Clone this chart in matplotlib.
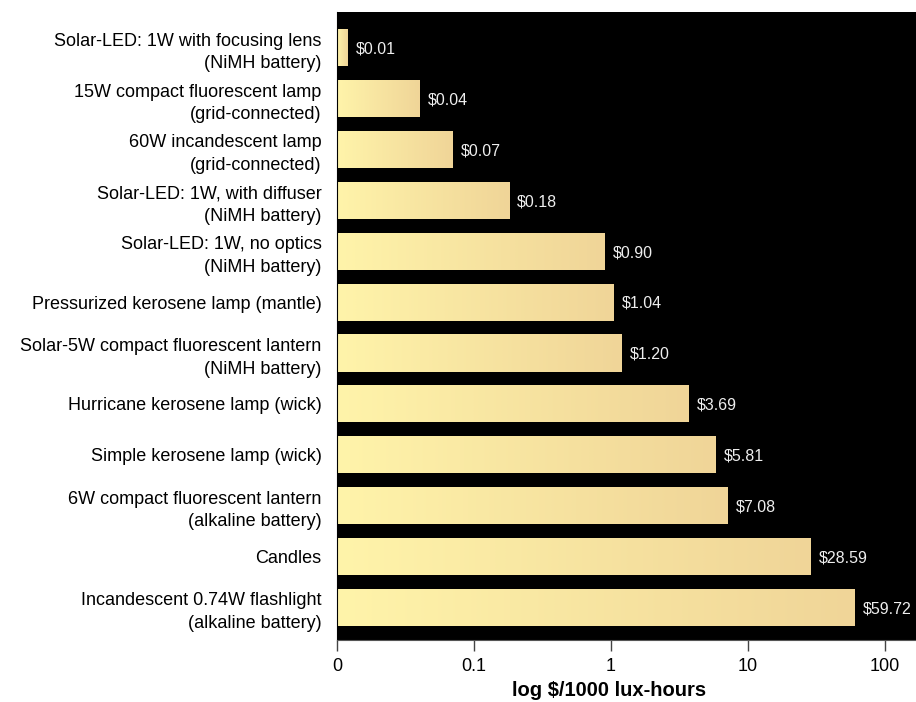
import matplotlib
matplotlib.use("Agg")
import matplotlib.pyplot as plt
import numpy as np
from matplotlib.colors import LinearSegmentedColormap
from matplotlib.image import AxesImage
from matplotlib.transforms import BboxTransformTo, TransformedBbox

plt.rcParams['font.family'] = ['Liberation Sans', 'DejaVu Sans']

# Kosten pro 1000 Lux-Stunden (von oben nach unten)
labels = [
    "Solar-LED: 1W with focusing lens\n(NiMH battery)",
    "15W compact fluorescent lamp\n(grid-connected)",
    "60W incandescent lamp\n(grid-connected)",
    "Solar-LED: 1W, with diffuser\n(NiMH battery)",
    "Solar-LED: 1W, no optics\n(NiMH battery)",
    "Pressurized kerosene lamp (mantle)",
    "Solar-5W compact fluorescent lantern\n(NiMH battery)",
    "Hurricane kerosene lamp (wick)",
    "Simple kerosene lamp (wick)",
    "6W compact fluorescent lantern\n(alkaline battery)",
    "Candles",
    "Incandescent 0.74W flashlight\n(alkaline battery)",
]
costs = [0.012, 0.04, 0.07, 0.18, 0.90, 1.04, 1.20, 3.69, 5.81, 7.08, 28.59, 59.72]
tick_vals = [0.01, 0.1, 1, 10, 100]
tick_labels = ["0", "0.1", "1", "10", "100"]

xmin, xmax = 0.01, 168

fig = plt.figure(figsize=(9.16, 7.02), dpi=100)
ax = fig.add_axes([337 / 916, 62 / 702, 579 / 916, 628 / 702])
ax.set_facecolor('black')
ax.set_xscale('log')

y = np.arange(len(costs))
bars = ax.barh(y, [c - xmin for c in costs], left=xmin, height=0.73,
               color='none', linewidth=0)

# Verlauf hell-gelb -> beige in jedem Balken
cmap = LinearSegmentedColormap.from_list('lamp', ['#FFF4AA', '#F0D598'])
grad = np.linspace(0, 1, 256).reshape(1, -1)
for bar, c in zip(bars, costs):
    box = TransformedBbox(bar.get_bbox(), ax.transData)
    im = AxesImage(ax, cmap=cmap, interpolation='bilinear',
                   extent=(0, 1, 0, 1), origin='lower')
    im.set_data(grad)
    im.set_transform(BboxTransformTo(box))
    im.set_clip_path(bar)
    ax.add_image(im)
    ax.annotate(f"${c:.2f}", xy=(c, bar.get_y() + bar.get_height() / 2),
                xytext=(6, -1), textcoords='offset points',
                va='center', ha='left', color='#EEEEEE', fontsize=11.5)

ax.set_xlim(xmin, xmax)
ax.set_ylim(len(costs) - 1 + 0.64, -0.70)
ax.set_yticks(y)
ax.set_yticklabels(labels, fontsize=13, ha='right', linespacing=1.45)
ax.tick_params(axis='y', length=0, pad=11)
ax.set_xticks(tick_vals)
ax.set_xticklabels(tick_labels, fontsize=13)
ax.xaxis.set_minor_locator(matplotlib.ticker.NullLocator())
ax.tick_params(axis='x', length=8, width=1, color='#444444', pad=5)

for s in ['top', 'right']:
    ax.spines[s].set_visible(False)
ax.spines['left'].set_color('black')
ax.spines['bottom'].set_color('#555555')

ax.set_xlabel("log $/1000 lux-hours", fontsize=14.5, fontweight='bold')
ax.xaxis.set_label_coords(0.47, -0.066)

fig.savefig("out.png", dpi=100)
